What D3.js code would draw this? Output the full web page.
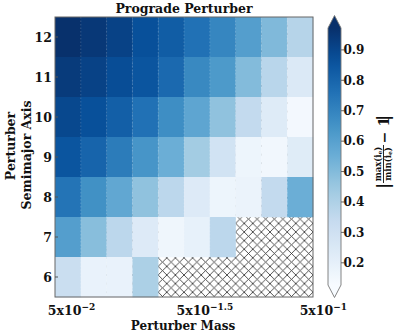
<!DOCTYPE html>
<html>
<head>
<meta charset="utf-8">
<script src="https://cdn.jsdelivr.net/npm/d3@7"></script>
<style>
  html, body { margin: 0; padding: 0; background: #fff; }
  svg { display: block; }
  text { font-family: "DejaVu Serif", serif; font-weight: bold; fill: #111; }
</style>
</head>
<body>
<div id="chart"></div>
<script>
// ---------------- DATA ----------------
const masses = [0.05, 0.0645, 0.0832, 0.1073, 0.1385, 0.1786, 0.2304, 0.2972, 0.3834, 0.5];
const semimajor = [12, 11, 10, 9, 8, 7, 6];
const row12 = [0.970, 0.947, 0.913, 0.871, 0.828, 0.761, 0.693, 0.609, 0.507, 0.381];
const row11 = [0.938, 0.913, 0.879, 0.854, 0.786, 0.685, 0.626, 0.499, 0.372, 0.245];
const row10 = [0.896, 0.871, 0.820, 0.761, 0.668, 0.583, 0.473, 0.347, 0.233, 0.144];
const row9  = [0.854, 0.803, 0.727, 0.642, 0.550, 0.431, 0.288, 0.169, 0.152, 0.228];
const row8  = [0.752, 0.659, 0.575, 0.473, 0.364, 0.237, 0.169, 0.178, 0.347, 0.550];
const row7  = [0.609, 0.490, 0.364, 0.237, 0.161, 0.195, 0.364, null, null, null];
const row6  = [0.321, 0.186, 0.186, 0.406, null, null, null, null, null, null];
const gridValues = [row12, row11, row10, row9, row8, row7, row6];

const colorRange = [0.127, 0.972];          // colour limits (extend both)
const cbarTicks = [0.2, 0.3, 0.4, 0.5, 0.6, 0.7, 0.8, 0.9];
const xTickBase = ["5x10", "5x10", "5x10"];
const xTickExp = ["\u22122", "\u22121.5", "\u22121"];
const xTickCols = [0.64, 5.81, 10.4];       // label centres in column units
const yTickLabels = ["12", "11", "10", "9", "8", "7", "6"];
const blues = ["#f7fbff", "#deebf7", "#c6dbef", "#9ecae1", "#6baed6",
               "#4292c6", "#2171b5", "#08519c", "#08306b"];

// ---------------- LAYOUT ----------------
const W = 399, H = 336;
const plot = { left: 55, right: 313, top: 17, bottom: 297 };
const cbar = { left: 328, right: 341, top: 28, bottom: 285, ext: 12.5 };

const svg = d3.select("#chart").append("svg").attr("width", W).attr("height", H);
const defs = svg.append("defs");

// scales
const x = d3.scaleBand().domain(d3.range(masses.length)).range([plot.left, plot.right]).padding(0);
const colPos = d3.scaleLinear().domain([0, masses.length]).range([plot.left, plot.right]);
const y = d3.scaleBand().domain(semimajor).range([plot.top, plot.bottom]).padding(0);
const tStops = blues.map((_, i) => i / (blues.length - 1));
const cmap = d3.scaleLinear().domain(tStops).range(blues).interpolate(d3.interpolateRgb).clamp(true);
const norm = d3.scaleLinear().domain(colorRange).range([0, 1]).clamp(true);
const color = v => cmap(norm(v));

// hatch pattern
const hs = 8.6;
const pat = defs.append("pattern").attr("id", "hatch").attr("patternUnits", "userSpaceOnUse")
  .attr("width", hs).attr("height", hs).attr("x", plot.left).attr("y", plot.top);
pat.append("rect").attr("width", hs).attr("height", hs).attr("fill", "#fff");
pat.append("path").attr("d", `M0,0L${hs},${hs}M0,${hs}L${hs},0M-1,1L1,-1M${hs-1},${hs+1}L${hs+1},${hs-1}M-1,${hs-1}L1,${hs+1}M${hs-1},-1L${hs+1},1`)
  .attr("stroke", "#333").attr("stroke-width", 0.85).attr("fill", "none");

// cells
const cells = [];
gridValues.forEach((row, ri) => row.forEach((v, ci) => cells.push({ r: semimajor[ri], c: ci, v })));

// hatched background for missing cells
svg.append("rect").attr("x", plot.left).attr("y", plot.top)
  .attr("width", plot.right - plot.left).attr("height", plot.bottom - plot.top)
  .attr("fill", "url(#hatch)");

svg.append("g").selectAll("rect").data(cells.filter(d => d.v !== null)).join("rect")
  .attr("x", d => x(d.c)).attr("y", d => y(d.r))
  .attr("width", x.bandwidth() + 0.3).attr("height", y.bandwidth() + 0.3)
  .attr("fill", d => color(d.v));

// faint grid lines at cell boundaries
const gg = svg.append("g").attr("stroke", "#ffffff").attr("stroke-opacity", 0.22)
  .attr("stroke-width", 0.8).attr("stroke-dasharray", "1.5,2");
d3.range(1, masses.length).forEach(i => gg.append("line")
  .attr("x1", colPos(i)).attr("x2", colPos(i)).attr("y1", plot.top).attr("y2", plot.bottom));

// frame
svg.append("rect").attr("x", plot.left).attr("y", plot.top)
  .attr("width", plot.right - plot.left).attr("height", plot.bottom - plot.top)
  .attr("fill", "none").attr("stroke", "#666").attr("stroke-width", 1);

// y ticks (inside) + labels
const yt = svg.append("g");
semimajor.forEach((s, i) => {
  const yc = y(s) + y.bandwidth() / 2;
  yt.append("line").attr("x1", plot.left).attr("x2", plot.left + 3).attr("y1", yc).attr("y2", yc)
    .attr("stroke", "#555").attr("stroke-width", 1);
  yt.append("text").attr("x", plot.left - 3).attr("y", yc).attr("dy", "0.36em")
    .attr("text-anchor", "end").attr("font-size", 12.5).text(yTickLabels[i]);
});

// x tick labels
xTickBase.forEach((b, i) => {
  const t = svg.append("text").attr("x", colPos(xTickCols[i])).attr("y", 315)
    .attr("text-anchor", "middle").attr("font-size", 12.5);
  t.append("tspan").text(b);
  t.append("tspan").attr("font-size", 9).attr("dy", -5).text(xTickExp[i]);
});

// title and axis labels
svg.append("text").attr("x", (plot.left + plot.right) / 2).attr("y", 13)
  .attr("text-anchor", "middle").attr("font-size", 12.5).text("Prograde Perturber");
svg.append("text").attr("x", (plot.left + plot.right) / 2 - 1).attr("y", 330)
  .attr("text-anchor", "middle").attr("font-size", 12).text("Perturber Mass");
svg.append("text").attr("transform", "translate(15,146) rotate(-90)")
  .attr("text-anchor", "middle").attr("font-size", 12.5).text("Perturber");
svg.append("text").attr("transform", "translate(31,155) rotate(-90)")
  .attr("text-anchor", "middle").attr("font-size", 12.5).text("Semimajor Axis");

// ---------------- COLORBAR ----------------
const cy = d3.scaleLinear().domain(colorRange).range([cbar.bottom, cbar.top]);
const grad = defs.append("linearGradient").attr("id", "cbgrad")
  .attr("x1", 0).attr("x2", 0).attr("y1", 1).attr("y2", 0);
d3.range(0, 1.0001, 0.05).forEach(t => grad.append("stop")
  .attr("offset", t).attr("stop-color", cmap(t)));
svg.append("rect").attr("x", cbar.left).attr("y", cbar.top)
  .attr("width", cbar.right - cbar.left).attr("height", cbar.bottom - cbar.top)
  .attr("fill", "url(#cbgrad)");
const cx = (cbar.left + cbar.right) / 2;
svg.append("path").attr("d", `M${cbar.left},${cbar.top}L${cx},${cbar.top - cbar.ext}L${cbar.right},${cbar.top}Z`)
  .attr("fill", cmap(1));
svg.append("path").attr("d", `M${cbar.left},${cbar.bottom}L${cx},${cbar.bottom + cbar.ext}L${cbar.right},${cbar.bottom}Z`)
  .attr("fill", cmap(0));
svg.append("path")
  .attr("d", `M${cbar.left},${cbar.top}L${cx},${cbar.top - cbar.ext}L${cbar.right},${cbar.top}L${cbar.right},${cbar.bottom}L${cx},${cbar.bottom + cbar.ext}L${cbar.left},${cbar.bottom}Z`)
  .attr("fill", "none").attr("stroke", "#777").attr("stroke-width", 0.9);
cbarTicks.forEach(v => {
  svg.append("line").attr("x1", cbar.right).attr("x2", cbar.right + 3)
    .attr("y1", cy(v)).attr("y2", cy(v)).attr("stroke", "#666");
  svg.append("text").attr("x", cbar.right + 2.5).attr("y", cy(v)).attr("dy", "0.36em")
    .attr("font-size", 12).text(v.toFixed(1));
});

// colorbar label |max(i_e)/min(i_e) - 1|
const lab = svg.append("g").attr("transform", "translate(383,152) rotate(-90)");
lab.append("text").attr("x", -34).attr("y", 6).attr("text-anchor", "middle")
  .attr("font-size", 17).attr("font-weight", "normal").text("|");
const num = lab.append("text").attr("x", -12).attr("y", -2.2).attr("text-anchor", "middle").attr("font-size", 8.5);
num.append("tspan").text("max(i");
num.append("tspan").attr("font-size", 6).attr("dy", 1.5).text("e");
num.append("tspan").attr("dy", -1.5).text(")");
lab.append("line").attr("x1", -31).attr("x2", 7).attr("y1", 0.5).attr("y2", 0.5)
  .attr("stroke", "#111").attr("stroke-width", 0.9);
const den = lab.append("text").attr("x", -12).attr("y", 7.8).attr("text-anchor", "middle").attr("font-size", 8.5);
den.append("tspan").text("min(i");
den.append("tspan").attr("font-size", 6).attr("dy", 1.5).text("e");
den.append("tspan").attr("dy", -1.5).text(")");
lab.append("text").attr("x", 22).attr("y", 5.5).attr("text-anchor", "middle")
  .attr("font-size", 14).text("\u2212 1");
lab.append("text").attr("x", 34).attr("y", 6).attr("text-anchor", "middle")
  .attr("font-size", 17).attr("font-weight", "normal").text("|");
</script>
</body>
</html>
